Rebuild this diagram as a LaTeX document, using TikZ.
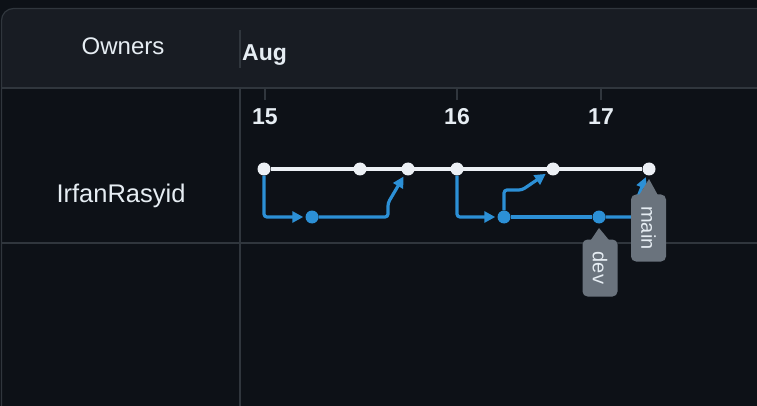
\documentclass[tikz,border=0pt]{standalone}
\usepackage{fontspec}
\setmainfont{Liberation Sans}
\usepackage{tikz}
\usetikzlibrary{arrows.meta,positioning,calc}
\definecolor{pagebg}{RGB}{13,17,23}
\definecolor{headbg}{RGB}{24,28,35}
\definecolor{gridline}{RGB}{48,54,61}
\definecolor{fgtext}{RGB}{230,237,243}
\definecolor{trunkwhite}{RGB}{236,240,245}
\definecolor{branchblue}{RGB}{44,144,214}
\definecolor{taggray}{RGB}{106,115,125}

\begin{document}
\begin{tikzpicture}[x=1pt, y=-1pt,
  commit/.style={circle, fill=trunkwhite, minimum size=13pt, inner sep=0pt},
  devcommit/.style={commit, fill=branchblue},
  trunk/.style={draw=trunkwhite, line width=3.2pt},
  branch/.style={draw=branchblue, line width=3.2pt, rounded corners=3pt},
  merge/.style={branch, -{Triangle[length=11pt,width=11pt]}, shorten >=2pt},
  tag/.style={rectangle, fill=taggray, rounded corners=5pt, rotate=-90,
              text=fgtext, font=\fontsize{20}{22}\selectfont,
              minimum height=35pt, inner sep=0pt},
  head/.style={font=\fontsize{24}{28}\selectfont, text=fgtext, inner sep=0pt},
  daylabel/.style={head, font=\fontsize{23}{26}\selectfont\bfseries},
  grid/.style={draw=gridline, line width=1.2pt}
]
  \useasboundingbox (0,0) rectangle (757,406);
  \clip (0,0) rectangle (757,406);
  \fill[pagebg] (0,0) rectangle (757,406);

  % ── FRAME + HEADER ──
  \begin{scope}
    \clip[rounded corners=12pt] (1.5,420) -- (1.5,8.5) -- (780,8.5) -- (780,420) -- cycle;
    \fill[headbg] (0,0) rectangle (780,88);
  \end{scope}
  \draw[grid, rounded corners=12pt] (1.5,420) -- (1.5,8.5) -- (780,8.5);
  \draw[grid] (1.5,88) -- (757,88);
  \draw[grid] (1.5,243) -- (757,243);
  \draw[grid] (240,30) -- (240,68);
  \draw[grid] (240,88) -- (240,406);

  \node[head, anchor=base] (owners) at (123,55) {Owners};
  \node[head, font=\fontsize{23}{26}\selectfont\bfseries, anchor=base west] (month) at (242,61) {Aug};

  % ── DAYS ──
  \draw[grid] (265,88) -- (265,100);
  \draw[grid] (457,88) -- (457,100);
  \draw[grid] (601,88) -- (601,100);
  \node[daylabel, anchor=base] (day15) at (265,125) {15};
  \node[daylabel, anchor=base] (day16) at (457,125) {16};
  \node[daylabel, anchor=base] (day17) at (601,125) {17};

  \node[head, font=\fontsize{25.5}{28}\selectfont, anchor=base] (owner) at (121,203) {IrfanRasyid};

  % ── COMMITS ──
  \node[commit] (m1) at (264,169) {};
  \node[commit] (m2) at (360,169) {};
  \node[commit] (m3) at (408,169) {};
  \node[commit] (m4) at (457,169) {};
  \node[commit] (m5) at (553,169) {};
  \node[commit] (m6) at (649,169) {};

  \node[devcommit] (d1) at (312,217) {};
  \node[devcommit] (d2) at (504,217) {};
  \node[devcommit] (d3) at (599,217) {};

  % main line
  \draw[trunk] (m1) -- (m6);

  % dev line
  \draw[merge] (m1) |- (d1);
  \draw[merge] (d1) -- ++(76,0) -- ++(0,-14) -- (m3);
  \draw[merge] (m4) |- (d2);
  \draw[branch] (d2) -- (d3);
  \draw[merge] (d2) -- ++(0,-27) -- ++(18,0) -- (m5);
  \draw[merge] (d3) -- ++(37,0) -- ++(0,-15) -- (m6);

  % ── TAGS ──
  \node[tag, minimum width=57pt] (devtag) at (600,268) {dev};
  \fill[taggray] ($(devtag.west)+(-10,2)$) -- ($(devtag.west)+(10,2)$) -- ($(d3)+(0,11)$) -- cycle;

  \node[tag, minimum width=67pt] (maintag) at (648.5,228) {main};
  \fill[taggray] ($(maintag.west)+(-10,2)$) -- ($(maintag.west)+(10,2)$) -- ($(m6)+(0,10)$) -- cycle;
\end{tikzpicture}
\end{document}
